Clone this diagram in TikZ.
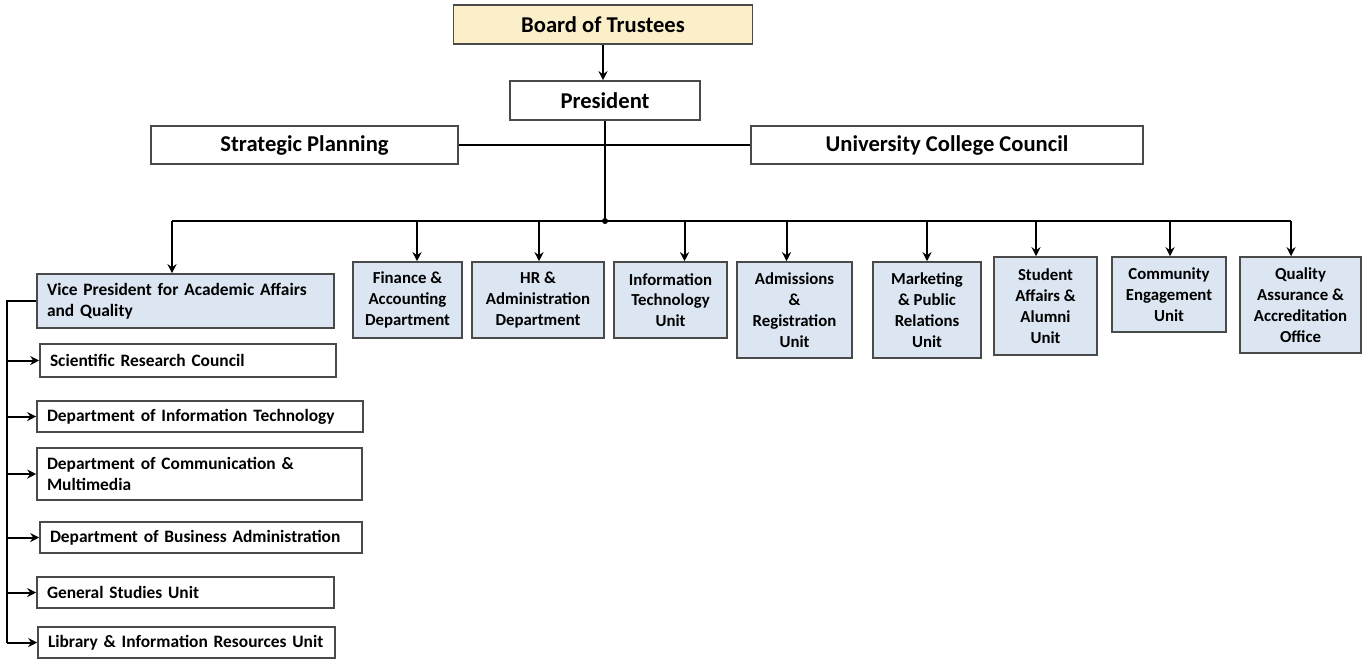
\documentclass[tikz,border=0pt]{standalone}
\usepackage{fontspec}
\setmainfont{Carlito}
\usetikzlibrary{arrows.meta}

\definecolor{trusteeyellow}{HTML}{FBEFC9}
\definecolor{unitblue}{HTML}{DCE6F2}
\definecolor{boxgray}{HTML}{4A4A4A}

\begin{document}
\begin{tikzpicture}[x=0.5pt, y=-0.5pt,
    topbox/.style={draw=boxgray, line width=0.8pt, fill=white, inner sep=0pt,
        font=\fontsize{11.3}{13.5}\selectfont\bfseries},
    unitbox/.style={draw=boxgray, line width=0.8pt, fill=unitblue, inner sep=0pt,
        align=center, font=\fontsize{8.4}{10.4}\selectfont\bfseries},
    sidebox/.style={draw=boxgray, line width=0.8pt, fill=white, inner xsep=5pt,
        inner ysep=0pt, align=left, font=\fontsize{8.7}{10.4}\selectfont\bfseries},
    link/.style={line width=1pt},
    arr/.style={line width=1pt, -{Stealth[length=4.5pt, width=4.5pt]}}]
    \useasboundingbox (0,0) rectangle (1363,661);

    % Top of the chart
    \node[topbox, fill=trusteeyellow, minimum width=149.5pt, minimum height=19.5pt] (board) at (603,24.5) {Board of Trustees};
    \node[topbox, minimum width=95pt, minimum height=19.5pt] (pres) at (605,100.5) {President};
    \node[topbox, minimum width=153.5pt, minimum height=19pt] (strat) at (304.5,145) {Strategic Planning};
    \node[topbox, minimum width=196pt, minimum height=19pt] (council) at (947,145) {University College Council};

    % Units under the president
    \node[sidebox, fill=unitblue, text width=138.5pt, minimum height=27pt] (vp) at (185.5,301) {Vice President for Academic Affairs\\and Quality};
    \node[unitbox, minimum width=54.5pt, minimum height=38pt] (fin) at (407.5,300) {Finance \&\\Accounting\\Department};
    \node[unitbox, minimum width=66pt, minimum height=38pt] (hr) at (538,300) {HR \&\\Administration\\Department};
    \node[unitbox, minimum width=56.5pt, minimum height=38pt] (itu) at (670.5,300) {Information\\Technology\\Unit};
    \node[unitbox, minimum width=57.5pt, minimum height=48pt] (adm) at (794.5,310) {Admissions\\\&\\Registration\\Unit};
    \node[unitbox, minimum width=54pt, minimum height=48pt] (mkt) at (927,310) {Marketing\\\& Public\\Relations\\Unit};
    \node[unitbox, minimum width=51.5pt, minimum height=49pt] (stu) at (1045.5,306) {Student\\Affairs \&\\Alumni\\Unit};
    \node[unitbox, minimum width=57pt, minimum height=37.5pt] (com) at (1169,294.5) {Community\\Engagement\\Unit};
    \node[unitbox, minimum width=60.5pt, minimum height=48pt] (qa) at (1300.5,305) {Quality\\Assurance \&\\Accreditation\\Office};

    % Units under the vice president
    \node[sidebox, text width=138pt, minimum height=16.5pt] (sci) at (188,360.5) {Scientific Research Council};
    \node[sidebox, text width=153pt, minimum height=15.5pt] (dit) at (200,416.5) {\mbox{Department of Information Technology}};
    \node[sidebox, text width=152.5pt, minimum height=26pt] (dcm) at (199.5,474) {Department of Communication \&\\Multimedia};
    \node[sidebox, text width=151pt, minimum height=15.5pt] (dba) at (201,537.5) {\mbox{Department of Business Administration}};
    \node[sidebox, text width=138.5pt, minimum height=15.5pt] (gsu) at (185.5,592.5) {General Studies Unit};
    \node[sidebox, text width=138.5pt, minimum height=15.5pt] (lib) at (186.5,642.5) {\mbox{Library \& Information Resources Unit}};

    % Connectors
    \draw[arr] (board) -- (board |- pres.north);
    \draw[link] (strat) -- (council);
    \coordinate (hub) at (605,221);
    \coordinate (busL) at (172,221);
    \coordinate (busR) at (1291,221);
    \draw[link] (pres) -- (hub);
    \draw[link] (busL) -- (busR);
    \fill (hub) circle (1.5pt);
    \draw[arr] (busL) -- (busL |- vp.north);
    \foreach \n/\dx in {fin/4.75pt, hr/0.5pt, itu/7pt, adm/-4pt, mkt/0pt, stu/-4.75pt, com/0.5pt, qa/-4.75pt}
        \draw[arr] ([xshift=\dx]\n.north |- busL) -- ([xshift=\dx]\n.north);

    % Left spine
    \coordinate (spine) at (7,301);
    \draw[link] (vp.west) -- (spine) -- (spine |- lib.west);
    \foreach \n in {sci, dit, dcm, dba, gsu, lib}
        \draw[arr] (spine |- \n.west) -- (\n.west);
\end{tikzpicture}
\end{document}
